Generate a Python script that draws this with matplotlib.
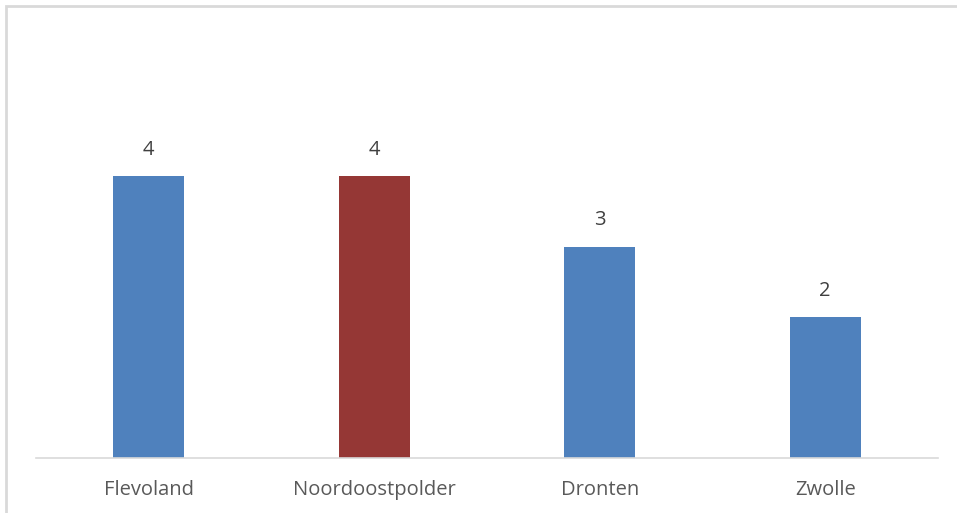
import matplotlib.pyplot as plt
from matplotlib.patches import Rectangle

categories = ["Flevoland", "Noordoostpolder", "Dronten", "Zwolle"]
values = [4, 4, 3, 2]
colors = ["#4F81BD", "#953735", "#4F81BD", "#4F81BD"]

W, H = 957, 513
fig = plt.figure(figsize=(W / 100, H / 100), dpi=100)

# outer chart border
fig.patches.append(Rectangle((6 / W, -0.05), 1.0, (H - 6) / H + 0.05,
                             transform=fig.transFigure, fill=False,
                             edgecolor="#d9d9d9", linewidth=2))

ax = fig.add_axes([36 / W, (H - 458) / H, (938 - 36) / W, (458 - 35) / H])
x = range(len(categories))
bars = ax.bar(x, values, width=0.315, color=colors)
ax.set_xlim(-0.5, 3.5)
ax.set_ylim(0, 6)

for b, v in zip(bars, values):
    ax.annotate(str(v), (b.get_x() + b.get_width() / 2, v), xytext=(0, 19),
                textcoords="offset points", ha="center", va="center",
                fontsize=14.5, color="#404040", family="Open Sans")

ax.set_xticks(list(x))
ax.set_xticklabels(categories, fontsize=14.5, color="#595959", family="Open Sans")
ax.tick_params(axis="x", length=0, pad=16)
ax.set_yticks([])
for s in ["top", "right", "left"]:
    ax.spines[s].set_visible(False)
ax.spines["bottom"].set_color("#d9d9d9")
ax.spines["bottom"].set_linewidth(1.2)

fig.savefig("out.png", dpi=100)
